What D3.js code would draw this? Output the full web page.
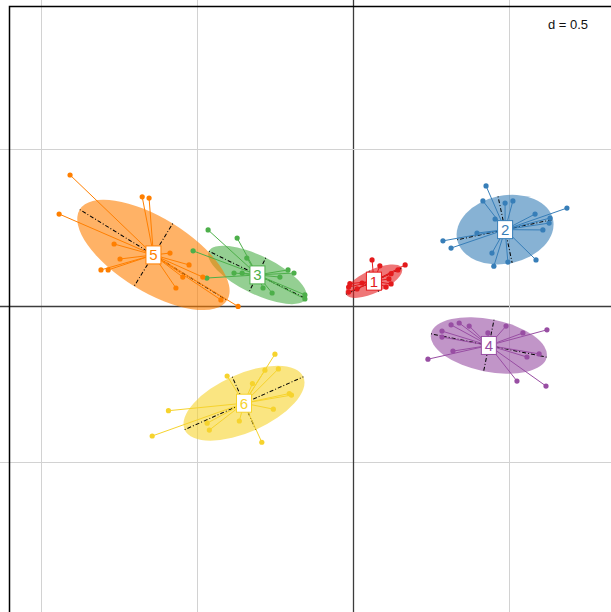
<!DOCTYPE html>
<html>
<head>
<meta charset="utf-8">
<script src="https://cdn.jsdelivr.net/npm/d3@7/dist/d3.min.js"></script>
<style>
  html, body { margin: 0; padding: 0; background: #fff; }
  svg { display: block; }
</style>
</head>
<body>
<svg id="chart" width="611" height="612"></svg>
<script>
// Class labels and their colours
const groups = ["1", "2", "3", "4", "5", "6"];
const colours = ["#E41A1C", "#377EB8", "#4DAF4A", "#984EA3", "#FF7F00", "#F6D32D"];

// Class centroids (factorial coordinates)
const centreX = [0.067, 0.487, -0.306, 0.435, -0.639, -0.349];
const centreY = [0.078, 0.243, 0.098, -0.128, 0.162, -0.313];

// Inertia ellipses: semi-axes and orientation of the major axis (degrees)
const ellA = [0.099, 0.157, 0.173, 0.189, 0.277, 0.208];
const ellB = [0.037, 0.109, 0.061, 0.084, 0.118, 0.093];
const ellAngle = [25, 12, -26, -11.4, -31.6, 24];

// Individual rows for each class
const rows1 = [[0.061, 0.146], [0.086, 0.127], [0.167, 0.130], [0.144, 0.114], [0.122, 0.102],
  [0.115, 0.085], [0.122, 0.069], [0.106, 0.059], [-0.010, 0.070], [-0.014, 0.059],
  [-0.014, 0.043], [0.013, 0.053], [0.029, 0.072]];
const rows2 = [[0.426, 0.383], [0.416, 0.335], [0.487, 0.328], [0.512, 0.335], [0.455, 0.277],
  [0.685, 0.312], [0.583, 0.293], [0.631, 0.280], [0.628, 0.264], [0.608, 0.242],
  [0.397, 0.232], [0.288, 0.207], [0.314, 0.184], [0.445, 0.168], [0.496, 0.139],
  [0.451, 0.126], [0.586, 0.146]];
const rows3 = [[-0.464, 0.242], [-0.371, 0.216], [-0.512, 0.175], [-0.340, 0.152], [-0.468, 0.088],
  [-0.381, 0.104], [-0.355, 0.104], [-0.208, 0.114], [-0.189, 0.104], [-0.234, 0.091],
  [-0.288, 0.056], [-0.259, 0.040], [-0.154, 0.034], [-0.154, 0.021]];
const rows4 = [[0.621, -0.078], [0.314, -0.062], [0.340, -0.056], [0.372, -0.066], [0.490, -0.066],
  [0.285, -0.082], [0.285, -0.101], [0.432, -0.088], [0.544, -0.088], [0.320, -0.146],
  [0.240, -0.172], [0.557, -0.165], [0.596, -0.155], [0.525, -0.242], [0.618, -0.258]];
const rows5 = [[-0.906, 0.418], [-0.675, 0.348], [-0.653, 0.344], [-0.941, 0.293], [-0.765, 0.197],
  [-0.586, 0.168], [-0.746, 0.149], [-0.807, 0.114], [-0.784, 0.114], [-0.525, 0.130],
  [-0.545, 0.091], [-0.481, 0.091], [-0.567, 0.056], [-0.423, 0.018], [-0.368, -0.003]];
const rows6 = [[-0.250, -0.156], [-0.282, -0.207], [-0.239, -0.203], [-0.403, -0.226], [-0.322, -0.250],
  [-0.204, -0.282], [-0.197, -0.287], [-0.591, -0.337], [-0.255, -0.332], [-0.364, -0.370],
  [-0.467, -0.377], [-0.460, -0.399], [-0.643, -0.418], [-0.292, -0.438]];
const rowsByGroup = [rows1, rows2, rows3, rows4, rows5, rows6];

// Grid positions and the scale legend
const gridTicks = [-1, -0.5, 0, 0.5, 1];
const gridStep = "d = 0.5";

const svg = d3.select("#chart");
const x = d3.scaleLinear().domain([-1, 1]).range([40.7, 665.3]);
const y = d3.scaleLinear().domain([-1, 1]).range([617.7, -6.7]);
const unit = x(1) - x(0);

// Background grid
const grid = svg.append("g");
gridTicks.forEach(t => {
  grid.append("line")
    .attr("x1", Math.round(x(t)) + 0.5).attr("x2", Math.round(x(t)) + 0.5)
    .attr("y1", 0).attr("y2", 612)
    .attr("stroke", t === 0 ? "#3c3c3c" : "#d2d2d2")
    .attr("stroke-width", t === 0 ? 1.3 : 1);
  grid.append("line")
    .attr("y1", Math.round(y(t)) + 0.5).attr("y2", Math.round(y(t)) + 0.5)
    .attr("x1", 0).attr("x2", 611)
    .attr("stroke", t === 0 ? "#3c3c3c" : "#d2d2d2")
    .attr("stroke-width", t === 0 ? 1.3 : 1);
});

// Plot frame
svg.append("rect")
  .attr("x", 9.5).attr("y", 6.5).attr("width", 700).attr("height", 700)
  .attr("fill", "none").attr("stroke", "#000").attr("stroke-width", 1.5);

svg.append("text")
  .attr("x", 588).attr("y", 29)
  .attr("text-anchor", "end")
  .attr("font-family", "Liberation Sans, Arial, sans-serif")
  .attr("font-size", 13)
  .attr("fill", "#111")
  .text(gridStep);

const data = groups.map((g, i) => ({
  label: g, colour: colours[i], cx: centreX[i], cy: centreY[i],
  a: ellA[i], b: ellB[i], angle: ellAngle[i], rows: rowsByGroup[i]
}));

// Ellipses
const ell = svg.append("g").selectAll("g").data(data).join("g")
  .attr("transform", d => `translate(${x(d.cx)},${y(d.cy)}) rotate(${-d.angle})`);
ell.append("ellipse")
  .attr("rx", d => d.a * unit).attr("ry", d => d.b * unit)
  .attr("fill", d => d.colour).attr("fill-opacity", 0.6);

// Ellipse axes
ell.append("line")
  .attr("x1", d => -d.a * unit).attr("x2", d => d.a * unit)
  .attr("y1", 0).attr("y2", 0)
  .attr("stroke", "#000").attr("stroke-width", 1).attr("stroke-dasharray", "1,2,4,2");
ell.append("line")
  .attr("y1", d => -d.b * unit).attr("y2", d => d.b * unit)
  .attr("x1", 0).attr("x2", 0)
  .attr("stroke", "#000").attr("stroke-width", 1).attr("stroke-dasharray", "1,2,4,2");

// Stars: each row joined to its class centroid
const stars = svg.append("g").selectAll("g").data(data).join("g");
stars.selectAll("line").data(d => d.rows.map(r => ({ r, d }))).join("line")
  .attr("x1", o => x(o.d.cx)).attr("y1", o => y(o.d.cy))
  .attr("x2", o => x(o.r[0])).attr("y2", o => y(o.r[1]))
  .attr("stroke", o => o.d.colour).attr("stroke-width", 1);
stars.selectAll("circle").data(d => d.rows.map(r => ({ r, d }))).join("circle")
  .attr("cx", o => x(o.r[0])).attr("cy", o => y(o.r[1]))
  .attr("r", 2.6)
  .attr("fill", o => o.d.colour);

// Class labels
const labels = svg.append("g").selectAll("g").data(data).join("g")
  .attr("transform", d => `translate(${x(d.cx)},${y(d.cy)})`);
labels.append("rect")
  .attr("x", -7.5).attr("y", -9).attr("width", 15).attr("height", 18)
  .attr("fill", "#fff").attr("stroke", d => d.colour).attr("stroke-width", 1);
labels.append("text")
  .attr("text-anchor", "middle").attr("y", 5.5)
  .attr("font-family", "Liberation Sans, Arial, sans-serif")
  .attr("font-size", 15)
  .attr("fill", d => d.colour)
  .text(d => d.label);
</script>
</body>
</html>
